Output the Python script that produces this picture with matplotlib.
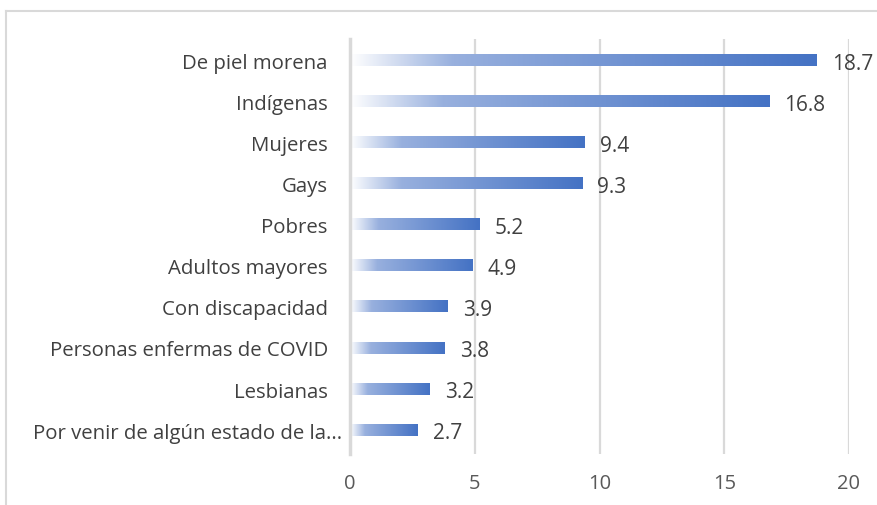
import numpy as np
import matplotlib.pyplot as plt
import matplotlib.transforms as mtransforms
from matplotlib.colors import LinearSegmentedColormap
from matplotlib.lines import Line2D

categories = [
    'De piel morena', 'Indígenas', 'Mujeres', 'Gays', 'Pobres',
    'Adultos mayores', 'Con discapacidad', 'Personas enfermas de COVID',
    'Lesbianas', 'Por venir de algún estado de la...',
]
values = [18.7, 16.8, 9.4, 9.3, 5.2, 4.9, 3.9, 3.8, 3.2, 2.7]
xticks = [0, 5, 10, 15, 20]

plt.rcParams['font.family'] = ['Open Sans', 'DejaVu Sans']

fig = plt.figure(figsize=(8.77, 5.06), dpi=100)
ax = fig.add_axes([350 / 877, 1 - 455 / 506, 499 / 877, 415 / 506])

# excel-like gradient fill: white on the left, blue on the right
cmap = LinearSegmentedColormap.from_list(
    'grad', [(0.0, '#ffffff'), (0.22, '#98b0de'), (1.0, '#4472c4')]
)
grad = np.linspace(0, 1, 256).reshape(1, -1)
bar_h = 0.27

for i, v in enumerate(values):
    ax.imshow(grad, cmap=cmap, aspect='auto',
              extent=[0, v, i + bar_h / 2, i - bar_h / 2], zorder=2,
              interpolation='bilinear')
    ax.annotate(f'{v:.1f}', xy=(v, i), xytext=(11, -2), textcoords='offset points',
                va='center', ha='left', fontsize=15, color='#404040')

ax.set_xlim(0, 20)
ax.set_ylim(9.58, -0.52)
ax.set_xticks(xticks)
ax.set_yticks(range(len(categories)))
ax.set_yticklabels(categories)
ax.tick_params(axis='y', length=0, pad=16, labelsize=14.7, labelcolor='#404040')
ax.tick_params(axis='x', length=0, pad=14, labelsize=14.5, labelcolor='#595959')
ax.grid(axis='x', color='#d9d9d9', linewidth=1.6, zorder=0)
ax.set_axisbelow(True)
for s in ['top', 'right', 'bottom']:
    ax.spines[s].set_visible(False)
ax.spines['left'].set_color('#d9d9d9')
ax.spines['left'].set_linewidth(2.5)

# the truncated last label sits a bit closer to the axis
last = ax.get_yticklabels()[-1]
last.set_transform(last.get_transform() + mtransforms.ScaledTranslation(14 / 100, 0, fig.dpi_scale_trans))

# chart area border (left and top edges visible)
fig.add_artist(Line2D([6 / 877, 6 / 877], [0, 1 - 12 / 506], color='#d9d9d9', lw=1.5))
fig.add_artist(Line2D([6 / 877, 1], [1 - 12 / 506, 1 - 12 / 506], color='#d9d9d9', lw=1.5))

plt.savefig('out.png', dpi=100)
